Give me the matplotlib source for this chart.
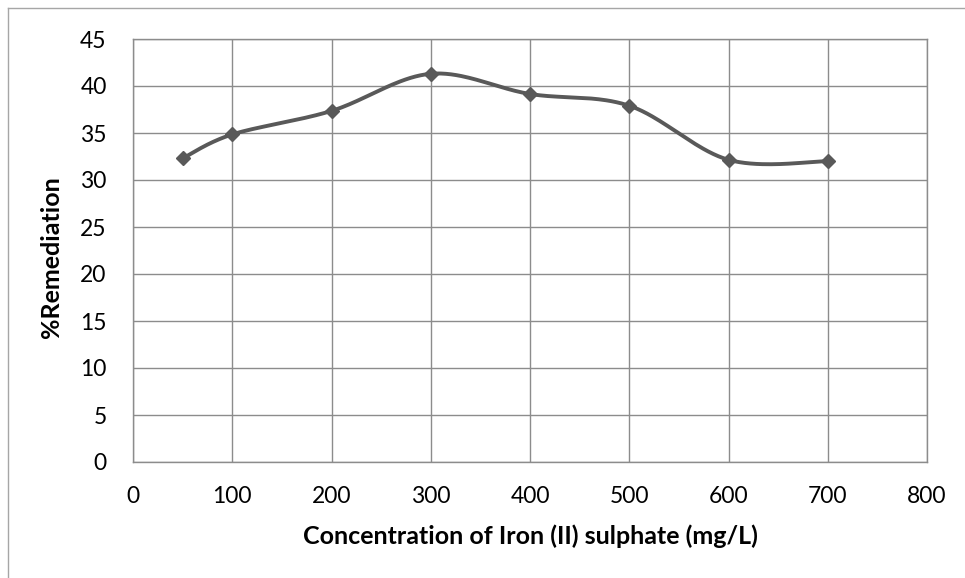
import numpy as np
import matplotlib.pyplot as plt
from matplotlib.lines import Line2D

# concentration (mg/L) and % remediation
conc = [50, 100, 200, 300, 400, 500, 600, 700]
remediation = [32.3, 34.85, 37.35, 41.3, 39.15, 37.9, 32.15, 32.0]

x_ticks = list(range(0, 900, 100))
y_ticks = list(range(0, 50, 5))


def smooth_curve(xs, ys, n=40):
    # Excel-like smoothed line: cubic Bezier between points, control points
    # from neighbouring points (Catmull-Rom style, tension 1/6)
    xs = np.asarray(xs, float)
    ys = np.asarray(ys, float)
    px = np.concatenate([[xs[0]], xs, [xs[-1]]])
    py = np.concatenate([[ys[0]], ys, [ys[-1]]])
    out_x, out_y = [], []
    t = np.linspace(0, 1, n)
    for i in range(1, len(px) - 2):
        p0 = np.array([px[i - 1], py[i - 1]])
        p1 = np.array([px[i], py[i]])
        p2 = np.array([px[i + 1], py[i + 1]])
        p3 = np.array([px[i + 2], py[i + 2]])
        c1 = p1 + (p2 - p0) / 6
        c2 = p2 - (p3 - p1) / 6
        b = ((1 - t) ** 3)[:, None] * p1 + (3 * (1 - t) ** 2 * t)[:, None] * c1 \
            + (3 * (1 - t) * t ** 2)[:, None] * c2 + (t ** 3)[:, None] * p2
        out_x.extend(b[:, 0])
        out_y.extend(b[:, 1])
    return out_x, out_y


plt.rcParams['font.family'] = ['Lato', 'DejaVu Sans']

fig = plt.figure(figsize=(9.65, 5.78), dpi=100)
ax = fig.add_axes([133 / 965, 1 - 462 / 578, 794 / 965, 423 / 578])

grid_col = '#8c8c8c'
line_col = '#595959'

sx, sy = smooth_curve(conc, remediation)
ax.plot(sx, sy, color=line_col, linewidth=2.8, zorder=3, solid_capstyle='round')
ax.plot(conc, remediation, linestyle='none', marker='D', markersize=7,
        color=line_col, zorder=4)

ax.set_xlim(0, 800)
ax.set_ylim(0, 45)
ax.set_xticks(x_ticks)
ax.set_yticks(y_ticks)
ax.grid(True, color=grid_col, linewidth=1)
ax.set_axisbelow(True)
for s in ax.spines.values():
    s.set_color(grid_col)
    s.set_linewidth(1)
ax.tick_params(length=0, labelsize=16.5, colors='black')
ax.tick_params(axis='x', pad=17)
ax.tick_params(axis='y', pad=19)

ax.set_xlabel('Concentration of Iron (II) sulphate (mg/L)', fontsize=18,
              fontweight='bold', labelpad=13)
ax.set_ylabel('%Remediation', fontsize=18, fontweight='bold', labelpad=12)
ax.yaxis.label.set_y(0.485)

# outer chart border (only left and top edges show in the cropped picture)
border = '#a6a6a6'
fig.add_artist(Line2D([8 / 965, 8 / 965], [0, 1 - 8 / 578],
                      transform=fig.transFigure, color=border, linewidth=1))
fig.add_artist(Line2D([8 / 965, 1], [1 - 8 / 578, 1 - 8 / 578],
                      transform=fig.transFigure, color=border, linewidth=1))

fig.savefig('out.png', dpi=100)
